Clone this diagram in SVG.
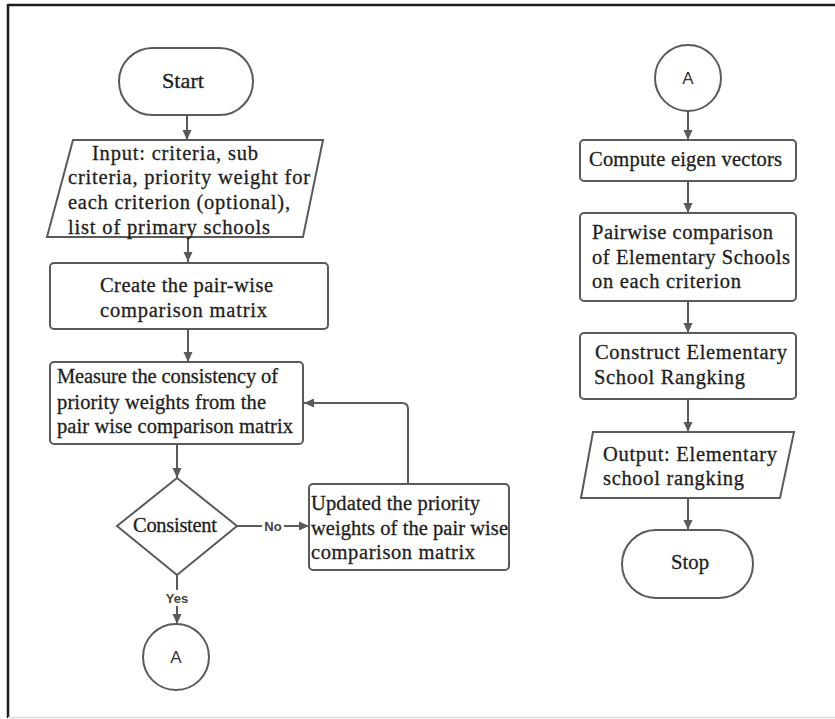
<svg xmlns="http://www.w3.org/2000/svg" width="835" height="719" viewBox="0 0 835 719">
<style>
.s{fill:#fff;stroke:#5a5a5a;stroke-width:2}
.t{font-family:"Liberation Serif","Times New Roman",serif;font-size:20.5px;fill:#1e1e1e;stroke:#1e1e1e;stroke-width:0.3}
.c{text-anchor:middle}
.l{fill:none;stroke:#5a5a5a;stroke-width:2}
.lab{font-family:"Liberation Sans",Arial,sans-serif;font-size:13px;font-weight:bold;fill:#444;text-anchor:middle}
.a{font-family:"Liberation Sans",Arial,sans-serif;font-size:17px;fill:#333;text-anchor:middle}
</style>
<defs>
<marker id="ar" viewBox="0 0 10 10" refX="10" refY="5" markerWidth="10" markerHeight="10" markerUnits="userSpaceOnUse" orient="auto">
<path d="M0,0.5 L10,5 L0,9.5 Z" fill="#5a5a5a"/>
</marker>
</defs>
<rect width="835" height="719" fill="#fff"/>
<g id="frame">
<line x1="8" y1="5" x2="835" y2="5" stroke="#1e1e1e" stroke-width="2.5"/>
<line x1="8" y1="4" x2="8" y2="718" stroke="#1e1e1e" stroke-width="2.5"/>
<line x1="8" y1="717.5" x2="835" y2="717.5" stroke="#dcdcdc" stroke-width="1.5"/>
</g>
<g id="connectors">
<line class="l" x1="187" y1="115" x2="187" y2="140" marker-end="url(#ar)"/>
<line class="l" x1="188" y1="237" x2="188" y2="262" marker-end="url(#ar)"/>
<line class="l" x1="188" y1="329" x2="188" y2="362" marker-end="url(#ar)"/>
<line class="l" x1="177" y1="444" x2="177" y2="478" marker-end="url(#ar)"/>
<line class="l" x1="237" y1="526" x2="309" y2="526" marker-end="url(#ar)"/>
<rect x="262" y="518" width="22" height="16" fill="#fff"/>
<text class="lab" x="273" y="531">No</text>
<path class="l" d="M408,484 V409 Q408,403 402,403 H304" marker-end="url(#ar)"/>
<line class="l" x1="177" y1="575" x2="177" y2="624" marker-end="url(#ar)"/>
<rect x="162" y="590" width="30" height="16" fill="#fff"/>
<text class="lab" x="177" y="603">Yes</text>
<line class="l" x1="688" y1="111" x2="688" y2="140" marker-end="url(#ar)"/>
<line class="l" x1="688" y1="181" x2="688" y2="213" marker-end="url(#ar)"/>
<line class="l" x1="688" y1="301" x2="688" y2="333" marker-end="url(#ar)"/>
<line class="l" x1="688" y1="399" x2="688" y2="432" marker-end="url(#ar)"/>
<line class="l" x1="688" y1="498" x2="688" y2="530" marker-end="url(#ar)"/>
</g>
<g id="start">
<rect class="s" x="119" y="48" width="134" height="67" rx="33.5"/>
<text class="t" x="162" y="88" textLength="42" lengthAdjust="spacingAndGlyphs">Start</text>
</g>
<g id="input">
<polygon class="s" points="73,140 323,140 303,237 47,237"/>
<text class="t" x="92" y="160" textLength="166">Input: criteria, sub</text>
<text class="t" x="68" y="184" textLength="242">criteria, priority weight for</text>
<text class="t" x="68" y="209" textLength="222">each criterion (optional),</text>
<text class="t" x="68" y="234" textLength="202">list of primary schools</text>
</g>
<g id="create">
<rect class="s" x="50" y="263" width="278" height="66" rx="4"/>
<text class="t" x="100" y="292" textLength="173">Create the pair-wise</text>
<text class="t" x="100" y="317" textLength="167">comparison matrix</text>
</g>
<g id="measure">
<rect class="s" x="50" y="362" width="253" height="82" rx="4"/>
<text class="t" x="57" y="383" textLength="221">Measure the consistency of</text>
<text class="t" x="57" y="409" textLength="209">priority weights from the</text>
<text class="t" x="57" y="433" textLength="236">pair wise comparison matrix</text>
</g>
<g id="consistent">
<polygon class="s" points="177,478 237,526 177,575 117,526"/>
<text class="t" x="133" y="532" textLength="84">Consistent</text>
</g>
<g id="update">
<rect class="s" x="309" y="484" width="200" height="86" rx="4"/>
<text class="t" x="311" y="510" textLength="169">Updated the priority</text>
<text class="t" x="311" y="535" textLength="197">weights of the pair wise</text>
<text class="t" x="311" y="559" textLength="164">comparison matrix</text>
</g>
<g id="connA1">
<circle class="s" cx="176" cy="657" r="33"/>
<text class="a" x="176" y="663">A</text>
</g>
<g id="connA2">
<circle class="s" cx="688" cy="78" r="33"/>
<text class="a" x="688" y="84">A</text>
</g>
<g id="eigen">
<rect class="s" x="580" y="140" width="216" height="41" rx="4"/>
<text class="t" x="589" y="166" textLength="193">Compute eigen vectors</text>
</g>
<g id="pairwise">
<rect class="s" x="580" y="213" width="216" height="88" rx="4"/>
<text class="t" x="592" y="239" textLength="181">Pairwise comparison</text>
<text class="t" x="592" y="264" textLength="198">of Elementary Schools</text>
<text class="t" x="592" y="288" textLength="149">on each criterion</text>
</g>
<g id="construct">
<rect class="s" x="580" y="333" width="216" height="66" rx="4"/>
<text class="t" x="595" y="359" textLength="192">Construct Elementary</text>
<text class="t" x="594" y="384" textLength="151">School Rangking</text>
</g>
<g id="output">
<polygon class="s" points="593,432 794,432 780,498 581,498"/>
<text class="t" x="603" y="461" textLength="174">Output: Elementary</text>
<text class="t" x="603" y="485" textLength="141">school rangking</text>
</g>
<g id="stop">
<rect class="s" x="622" y="530" width="131" height="68" rx="34"/>
<text class="t" x="671" y="569" textLength="38" lengthAdjust="spacingAndGlyphs">Stop</text>
</g>
</svg>
